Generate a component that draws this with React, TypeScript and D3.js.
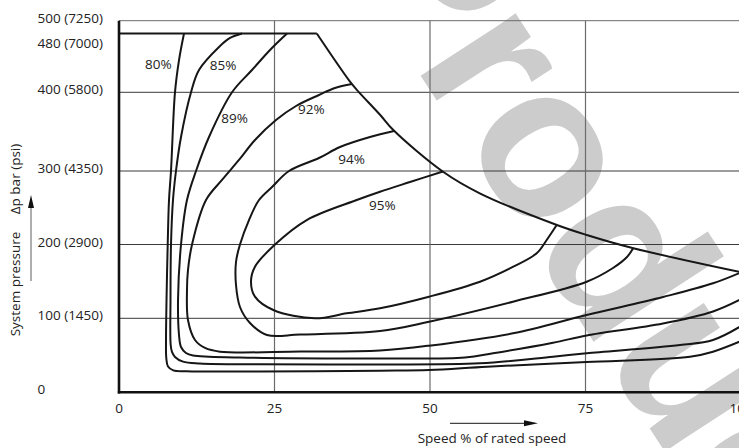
import React from "react";
import * as d3 from "d3";

type Pt = [number, number];

// ---------- data (speed % of rated, pressure bar) ----------
const speedTicks = [0, 25, 50, 75, 100];
const speedGrid = [25, 50, 75, 100];
const pressureTicks = [0, 100, 200, 300, 400, 480, 500];
const pressureTickLabels = ["0", "100 (1450)", "200 (2900)", "300 (4350)", "400 (5800)", "480 (7000)", "500 (7250)"];
const pressureGrid = [100, 200, 300, 400, 500];

const maxPressureLine: Pt[] = [[0, 480], [31.8, 480]];
const powerLimit: Pt[] = [
  [31.8, 480], [37.3, 412.7], [38.6, 400], [42.0, 371.2], [44.1, 352.1], [52.1, 299],
  [58.0, 269.7], [70.4, 226.5], [75.2, 212.9], [82.7, 194.9], [100.5, 161.5],
];

const eff80: Pt[] = [
  [10.45, 480], [9.65, 443.9], [9.0, 400], [8.36, 300], [8.04, 260.5], [7.83, 200], [7.64, 124.8],
  [7.56, 70.7], [7.6, 46.4], [7.88, 34.9], [8.73, 29.7], [10.88, 28.4], [22.67, 28.1], [41.96, 29.2],
  [49.84, 30.1], [59.16, 34.6], [75.19, 40.9], [91.8, 48.1], [95.5, 54.9], [100.5, 71],
];
const eff85: Pt[] = [
  [19.77, 480], [17.85, 473.9], [16.08, 461.6], [12.86, 430.3], [11.58, 400], [9.97, 343.2], [9.16, 300],
  [8.68, 260.5], [8.36, 200], [8.28, 124.8], [8.31, 63.9], [8.52, 54.5], [9.0, 47.7], [10.29, 41.4],
  [13.02, 38.9], [22.67, 37.8], [41.96, 37.6], [58.04, 39.2], [69.77, 48.1], [75.19, 52.7], [90.19, 63.9],
  [95.5, 70.7], [100.5, 92],
];
const eff89: Pt[] = [
  [27.01, 480], [24.28, 457.6], [21.38, 430.3], [18.17, 400], [14.47, 343.2], [12.38, 300], [10.93, 260.5],
  [9.97, 200], [9.49, 124.8], [9.65, 77.4], [9.97, 61.2], [10.77, 53.1], [11.9, 49.7], [19.45, 47.0],
  [41.96, 45.7], [55.63, 47.0], [60.13, 52.7], [69.77, 67.0], [75.19, 76.8], [87.46, 92.9], [95.5, 109.2],
  [100.5, 128],
];
const eff92: Pt[] = [
  [37.46, 411.3], [34.73, 405.9], [32.15, 396.6], [28.46, 382.6], [25.24, 364.8], [21.86, 339.4],
  [19.29, 314.0], [16.56, 287.8], [13.99, 260.5], [11.74, 200], [11.09, 165.4], [10.93, 138.3],
  [11.09, 97.7], [12.22, 70.7], [13.83, 59.9], [16.24, 54.9], [29.1, 55.1], [41.96, 56.5], [49.84, 63.0],
  [63.34, 79.7], [75.19, 104.5], [87.46, 128.9], [95.5, 147.4], [100.5, 164],
];
const eff94: Pt[] = [
  [44.21, 350.8], [40.35, 343.2], [35.53, 330.5], [32.15, 316.5], [27.33, 300], [24.6, 278.2],
  [22.51, 260.5], [20.9, 233.3], [19.45, 200], [18.81, 176.3], [18.81, 145.1], [19.45, 115.3],
  [21.06, 93.6], [23.79, 77.4], [29.1, 78.1], [41.96, 82.8], [49.84, 95.4], [63.34, 122.5],
  [75.19, 149.6], [79.42, 168.2], [81.67, 183.1], [82.64, 194.6],
];
const eff95: Pt[] = [
  [52.09, 299.3], [46.78, 285.0], [41.96, 271.8], [38.22, 260.5], [30.18, 233.3], [25.08, 200],
  [21.86, 169.9], [21.22, 149.6], [21.86, 129.3], [24.81, 111.2], [31.51, 100], [36.61, 106.8],
  [41.96, 113.6], [49.84, 129.3], [58.04, 149.6], [63.39, 169.9], [67.15, 188.0], [68.76, 206.1],
  [70.37, 226.5],
];
const contours = [eff80, eff85, eff89, eff92, eff94, eff95];

const contourLabels = ["80%", "85%", "89%", "92%", "94%", "95%"];
const labelSpeed = [4.18, 14.58, 16.45, 28.78, 35.26, 40.19];
const labelPressure = [438.5, 437.1, 367.0, 378.4, 315.2, 253.7];

const xTitle = "Speed % of rated speed";
const yTitleLeft = "System pressure";
const yTitleRight = "Δp bar (psi)";
const watermark = "Production";

// ---------- layout ----------
const W = 739;
const H = 448;
const FONT = "'Open Sans', 'DejaVu Sans', sans-serif";

export default function App() {
  const x = d3.scaleLinear().domain([0, 100]).range([119, 741]);
  const y = d3.scaleLinear().domain(pressureTicks).range([392.3, 318.3, 244.5, 171, 92.3, 33.5, 20.7]);

  const smooth = d3.line<Pt>().x((d) => x(d[0])).y((d) => y(d[1])).curve(d3.curveCatmullRom.alpha(0.5));
  const straight = d3.line<Pt>().x((d) => x(d[0])).y((d) => y(d[1]));

  const x0 = x(0);
  const y0 = y(0);
  const yTop = y(500);

  return (
    <svg
      width={W}
      height={H}
      viewBox={`0 0 ${W} ${H}`}
      style={{ position: "absolute", left: 0, top: 0, background: "#fff" }}
      fontFamily={FONT}
    >
      <rect x={0} y={0} width={W} height={H} fill="#fff" />
      {/* watermark */}
      <text
        transform="translate(334.5,-57) rotate(57)"
        fontFamily="'Liberation Sans', Arial, sans-serif"
        fontWeight="bold"
        fontSize={215}
        fill="#cccccc"
      >
        {watermark}
      </text>

      {/* grid */}
      {pressureGrid.map((p) => (
        <line key={"h" + p} x1={x0} x2={W + 5} y1={y(p)} y2={y(p)}
          stroke={p === 500 ? "#6b6b6b" : "#3a3a3a"} strokeWidth={1} />
      ))}
      {speedGrid.map((s) => (
        <line key={"v" + s} x1={x(s)} x2={x(s)} y1={yTop} y2={y0} stroke="#6b6b6b" strokeWidth={1.2} />
      ))}

      {/* contours */}
      {contours.map((c, i) => (
        <path key={"c" + i} d={smooth(c) || ""} fill="none" stroke="#161616" strokeWidth={2} />
      ))}
      <path d={straight(maxPressureLine) || ""} fill="none" stroke="#161616" strokeWidth={2} />
      <path d={smooth(powerLimit) || ""} fill="none" stroke="#161616" strokeWidth={2} />

      {/* axes */}
      <line x1={x0} x2={x0} y1={yTop} y2={y0 + 1.2} stroke="#111" strokeWidth={2.6} />
      <line x1={x0 - 1.2} x2={W + 5} y1={y0} y2={y0} stroke="#111" strokeWidth={2.6} />

      {/* contour labels */}
      {contourLabels.map((t, i) => (
        <text key={"l" + t} x={x(labelSpeed[i])} y={y(labelPressure[i]) + 4.6} fontSize={13.5} fill="#222">
          {t}
        </text>
      ))}

      {/* y tick labels */}
      {pressureTicks.map((p, i) => (
        <text key={"yt" + p} x={37.5} y={y(p) + (p === 480 ? 14 : 2)} fontSize={13.5} fill="#222">
          {pressureTickLabels[i]}
        </text>
      ))}

      {/* x tick labels */}
      {speedTicks.map((s) => (
        <text key={"xt" + s} x={x(s)} y={412.5} fontSize={13.5} fill="#222" textAnchor="middle">
          {s}
        </text>
      ))}

      {/* x title + arrow */}
      <line x1={450} x2={526} y1={423.3} y2={423.3} stroke="#444" strokeWidth={1.2} />
      <path d="M538,423.3 L524,420.3 L524,426.3 Z" fill="#111" />
      <text x={492} y={442.5} fontSize={13.5} fill="#222" textAnchor="middle">
        {xTitle}
      </text>

      {/* y title + arrow */}
      <text transform="translate(20,284) rotate(-90)" fontSize={13.5} fill="#222" textAnchor="middle">
        {yTitleLeft}
      </text>
      <text transform="translate(20,179) rotate(-90)" fontSize={13.5} fill="#222" textAnchor="middle">
        {yTitleRight}
      </text>
      <line x1={31} x2={31} y1={281} y2={206} stroke="#777" strokeWidth={1.2} />
      <path d="M31,195 L28,208 L34,208 Z" fill="#111" />
    </svg>
  );
}
